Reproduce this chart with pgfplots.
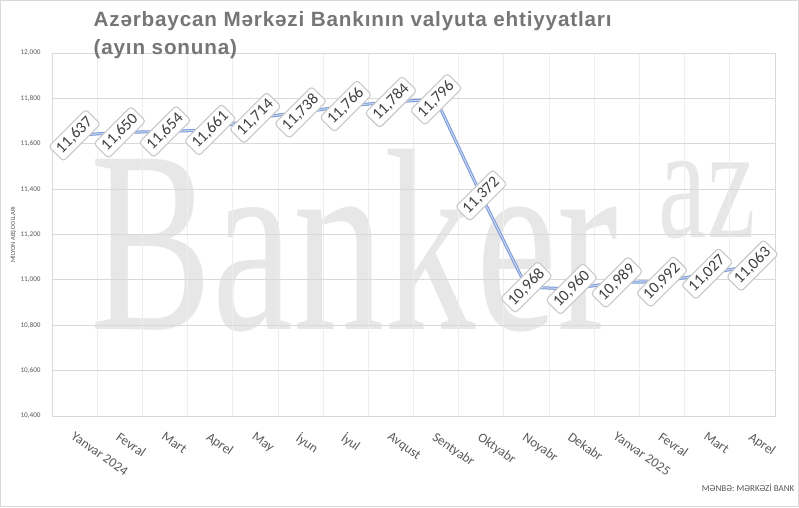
\documentclass[border=0pt]{standalone}
\usepackage{fontspec}
\setmainfont{Carlito}
\newfontfamily\titlefont[LetterSpace=4]{Liberation Sans}
\newfontfamily\wmfont{Liberation Serif}
\usepackage{pgfplots}
\pgfplotsset{compat=1.18}
\definecolor{titlegray}{RGB}{118,118,118}
\definecolor{ticktext}{RGB}{89,89,89}
\definecolor{gridgray}{RGB}{217,217,217}
\definecolor{vgridgray}{RGB}{238,238,238}
\definecolor{wmgray}{RGB}{231,231,231}
\definecolor{lineblue}{RGB}{122,153,216}
\definecolor{lineinner}{RGB}{198,213,240}
\definecolor{labelborder}{RGB}{200,200,200}
\definecolor{labeltext}{RGB}{64,64,64}

% end-of-month reserves, million USD
\pgfplotstableread{
x  y
0  11637
1  11650
2  11654
3  11661
4  11714
5  11738
6  11766
7  11784
8  11796
9  11372
10 10968
11 10960
12 10989
13 10992
14 11027
15 11063
}\reserves

\begin{document}
\begin{tikzpicture}
% watermark
\begin{scope}[shift={(28.5pt,65.25pt)},xscale=0.703]
  \node[transform shape,anchor=base west,inner sep=0pt,text=wmgray,
        font=\fontsize{195}{195}\selectfont\wmfont] at (0,0) {Banker};
\end{scope}
\begin{scope}[shift={(455pt,134pt)},xscale=0.67]
  \node[transform shape,anchor=base west,inner sep=0pt,text=wmgray,
        font=\fontsize{122}{122}\selectfont\wmfont] at (0,0) {az};
\end{scope}

\begin{axis}[
    at={(0,0)}, anchor=south west,
    scale only axis,
    width=542.25pt, height=272.25pt,
    xmin=-0.5, xmax=15.5,
    ymin=10400, ymax=12000,
    ytick={10400,10600,...,12000},
    scaled y ticks=false,
    yticklabel={\pgfmathprintnumber[fixed,precision=0,1000 sep={,}]{\tick}},
    xtick={0,...,15},
    xticklabels={Yanvar 2024,Fevral,Mart,Aprel,May,İyun,İyul,Avqust,Sentyabr,Oktyabr,Noyabr,Dekabr,Yanvar 2025,Fevral,Mart,Aprel},
    minor xtick={0.5,1.5,...,14.5},
    ymajorgrids, xminorgrids,
    major grid style={draw=gridgray,line width=0.6pt},
    minor grid style={draw=vgridgray,line width=0.6pt},
    axis line style={draw=gridgray,line width=0.6pt},
    major tick length=0pt, minor tick length=0pt,
    /pgf/number format/assume math mode=true,
    yticklabel style={font=\fontsize{5.4}{6}\selectfont, text=ticktext, xshift=-5pt},
    xticklabel style={font=\fontsize{10}{12}\selectfont, text=ticktext, rotate=-35,
                      anchor=north west, inner sep=0pt, yshift=-9pt, xshift=7pt},
]
\addplot[lineblue, line width=2.3pt] table[x=x,y=y] {\reserves};
\addplot[lineinner, line width=0.8pt,
    nodes near coords={\pgfmathprintnumber[fixed,precision=0,1000 sep={,}]{\pgfplotspointmeta}},
    nodes near coords align={center},
    every node near coord/.append style={rotate=45, anchor=center, draw=labelborder,
        fill=white, rounded corners=2.5pt, text=labeltext, inner sep=3pt,
        font=\fontsize{12}{14}\selectfont},
] table[x=x,y=y] {\reserves};
\end{axis}

% title
\node[anchor=base west, inner sep=0pt, text=titlegray,
      font=\fontsize{15.5}{19}\selectfont\titlefont\bfseries] at (31pt,291.75pt)
      {Azərbaycan Mərkəzi Bankının valyuta ehtiyyatları};
\node[anchor=base west, inner sep=0pt, text=titlegray,
      font=\fontsize{15.5}{19}\selectfont\titlefont\bfseries] at (31pt,271pt)
      {(ayın sonuna)};
% axis title
\node[rotate=90, inner sep=0pt, text=ticktext, font=\fontsize{4.8}{6}\selectfont]
      at (-29.25pt,136pt) {MİLYON ABŞ DOLLARI};
% source
\node[anchor=base east, inner sep=0pt, text=ticktext, font=\fontsize{6.8}{8}\selectfont]
      at (557pt,-56.25pt) {MƏNBƏ: MƏRKƏZİ BANK};
% frame and page size
\draw[gridgray, line width=0.6pt] (-38.7pt,-67.95pt) rectangle (559.95pt,311.7pt);
\pgfresetboundingbox
\path[use as bounding box] (-39pt,-68.25pt) rectangle (560.25pt,312pt);
\end{tikzpicture}
\end{document}
